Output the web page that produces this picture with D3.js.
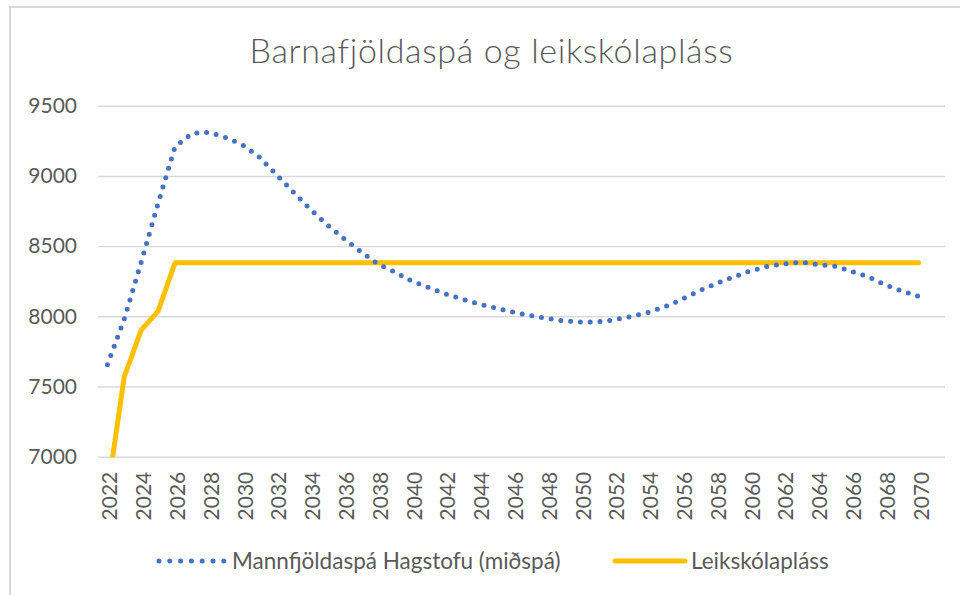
<!DOCTYPE html>
<html>
<head>
<meta charset="utf-8">
<script src="https://cdn.jsdelivr.net/npm/d3@7"></script>
<style>
  html, body { margin: 0; padding: 0; background: #ffffff; }
  svg { display: block; }
  text { font-family: Lato, "Open Sans", sans-serif; fill: #595959; }
</style>
</head>
<body>
<svg id="chart" width="960" height="595"></svg>
<script>
// ---- data ----
const title = "Barnafjöldaspá og leikskólapláss";
const years = [2022,2023,2024,2025,2026,2027,2028,2029,2030,2031,2032,2033,2034,2035,2036,2037,2038,2039,2040,2041,2042,2043,2044,2045,2046,2047,2048,2049,2050,2051,2052,2053,2054,2055,2056,2057,2058,2059,2060,2061,2062,2063,2064,2065,2066,2067,2068,2069,2070];
const forecast = [7655,7981,8386,8805,9207,9303,9310,9273,9221,9134,9009,8885,8762,8653,8553,8460,8372,8316,8251,8205,8160,8122,8087,8059,8030,8006,7984,7968,7959,7960,7975,7999,8028,8068,8121,8180,8232,8278,8321,8354,8372,8386,8369,8358,8322,8282,8226,8180,8142];
const places = [6740,7570,7902,8037,8381,8381,8381,8381,8381,8381,8381,8381,8381,8381,8381,8381,8381,8381,8381,8381,8381,8381,8381,8381,8381,8381,8381,8381,8381,8381,8381,8381,8381,8381,8381,8381,8381,8381,8381,8381,8381,8381,8381,8381,8381,8381,8381,8381,8381];
const yTicks = [7000,7500,8000,8500,9000,9500];
const xTickLabels = [2022,2024,2026,2028,2030,2032,2034,2036,2038,2040,2042,2044,2046,2048,2050,2052,2054,2056,2058,2060,2062,2064,2066,2068,2070];
const seriesNames = ["Mannfjöldaspá Hagstofu (miðspá)", "Leikskólapláss"];

// ---- layout ----
const svg = d3.select("#chart");
const plot = { left: 98, right: 945, top: 105.7, bottom: 456.7 };

const x = d3.scalePoint().domain(years).range([107.4, 918.6]);
const y = d3.scaleLinear().domain([7000, 9500]).range([plot.bottom, plot.top]);

// chart border
svg.append("rect")
  .attr("x", 10).attr("y", 7)
  .attr("width", 1000).attr("height", 700)
  .attr("fill", "none").attr("stroke", "#d9d9d9").attr("stroke-width", 2);

// title
svg.append("text")
  .attr("x", 491.5).attr("y", 63)
  .attr("text-anchor", "middle")
  .style("font-size", "34px").style("font-weight", 300)
  .style("letter-spacing", "0.65px")
  .text(title);

// gridlines + y labels
const yAxis = svg.append("g")
  .attr("transform", `translate(${plot.left},0)`)
  .call(d3.axisLeft(y).tickValues(yTicks).tickSize(-(plot.right - plot.left)).tickPadding(21).tickFormat(d3.format("d")));
yAxis.select(".domain").remove();
yAxis.selectAll(".tick line").attr("stroke", "#d9d9d9").attr("stroke-width", 1.5);
yAxis.selectAll(".tick text")
  .style("font-size", "21px").attr("fill", "#595959")
  .style("font-family", "Lato, 'Open Sans', sans-serif");

// x labels
const xAxis = svg.append("g")
  .attr("transform", `translate(2,${plot.bottom})`)
  .call(d3.axisBottom(x).tickValues(xTickLabels).tickSize(0).tickPadding(0));
xAxis.select(".domain").remove();
xAxis.selectAll(".tick text")
  .style("font-size", "21px").attr("fill", "#595959")
  .style("font-family", "Lato, 'Open Sans', sans-serif")
  .attr("text-anchor", "end")
  .attr("transform", "translate(0,15) rotate(-90)")
  .attr("x", 0).attr("y", 0).attr("dy", "0.36em");

// clip
svg.append("clipPath").attr("id", "plotclip")
  .append("rect").attr("x", 0).attr("y", 0).attr("width", 960).attr("height", plot.bottom + 0.5);

const line = d3.line().x((d, i) => x(years[i])).y(d => y(d));

svg.append("path")
  .datum(places)
  .attr("clip-path", "url(#plotclip)")
  .attr("d", line)
  .attr("fill", "none").attr("stroke", "#FFC000")
  .attr("stroke-width", 5).attr("stroke-linecap", "round").attr("stroke-linejoin", "round");

svg.append("path")
  .datum(forecast)
  .attr("d", line)
  .attr("fill", "none").attr("stroke", "#4472C4")
  .attr("stroke-width", 5).attr("stroke-linecap", "round")
  .attr("stroke-dasharray", "0,9.8");

// legend
const lg = svg.append("g");
lg.append("line").attr("x1", 159).attr("x2", 224).attr("y1", 561).attr("y2", 561)
  .attr("stroke", "#4472C4").attr("stroke-width", 5).attr("stroke-linecap", "round")
  .attr("stroke-dasharray", "0,10.8");
lg.append("text").attr("x", 232).attr("y", 561).attr("dy", "0.35em")
  .style("font-size", "22.5px").text(seriesNames[0]);
lg.append("line").attr("x1", 615).attr("x2", 685).attr("y1", 561).attr("y2", 561)
  .attr("stroke", "#FFC000").attr("stroke-width", 5).attr("stroke-linecap", "round");
lg.append("text").attr("x", 691).attr("y", 561).attr("dy", "0.35em")
  .style("font-size", "22.5px").text(seriesNames[1]);
</script>
</body>
</html>
